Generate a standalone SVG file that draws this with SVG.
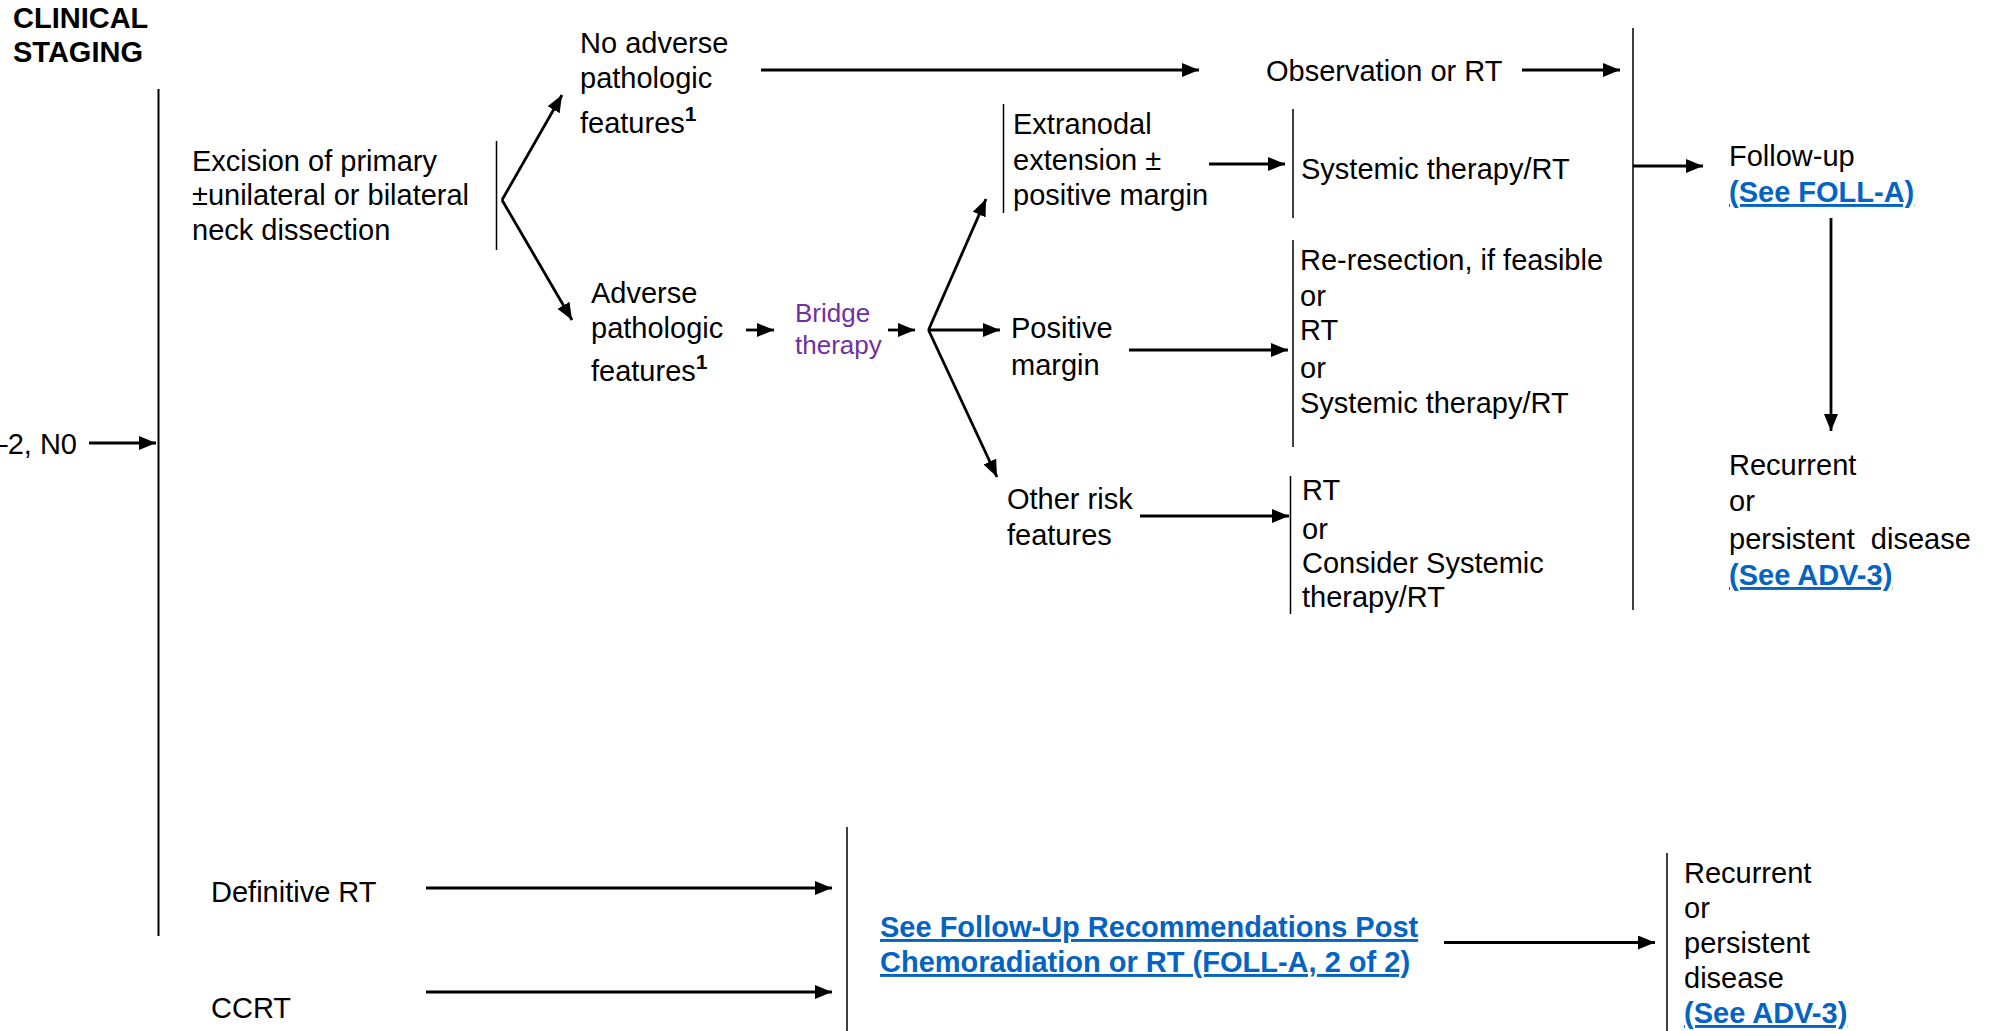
<svg xmlns="http://www.w3.org/2000/svg" width="1989" height="1031" viewBox="0 0 1989 1031">
  <style>
    text { font-family: "Liberation Sans", Arial, Helvetica, sans-serif; font-size: 29px; fill: #000; }
    .hd { font-weight: bold; font-size: 29px; }
    .purple { fill: #7030A0; font-size: 26px; }
    .lnk { fill: #0563C1; font-weight: bold; text-decoration: underline; }
    .sup { font-size: 21px; font-weight: bold; }
    .pre { white-space: pre; }
    .br { stroke: #000; stroke-width: 1.5; fill: none; }
    .spine { stroke: #000; stroke-width: 2; fill: none; }
    .ar { stroke: #000; stroke-width: 2.8; fill: none; marker-end: url(#ah); }
  </style>
  <defs>
    <marker id="ah" markerUnits="userSpaceOnUse" markerWidth="18" markerHeight="14" refX="17" refY="7" orient="auto">
      <path d="M0,0 L17,7 L0,14 Z" fill="#000"/>
    </marker>
  </defs>
  <rect width="1989" height="1031" fill="#fff"/>

  <!-- column heading -->
  <g id="heading">
    <text class="hd" x="13" y="28">CLINICAL</text>
    <text class="hd" x="13" y="62">STAGING</text>
  </g>

  <!-- entry stage -->
  <g id="stage">
    <text x="77" y="454" text-anchor="end">–2, N0</text>
  </g>

  <!-- vertical brackets -->
  <g id="brackets">
    <line class="spine" x1="158.5" y1="89" x2="158.5" y2="936"/>
    <line class="br" x1="496.5" y1="141" x2="496.5" y2="250"/>
    <line class="br" x1="1003.5" y1="104" x2="1003.5" y2="213"/>
    <line class="br" x1="1293" y1="109" x2="1293" y2="218"/>
    <line class="br" x1="1293" y1="240" x2="1293" y2="447"/>
    <line class="br" x1="1290.5" y1="476" x2="1290.5" y2="614"/>
    <line class="br" x1="1633" y1="28" x2="1633" y2="610"/>
    <line class="br" x1="847" y1="827" x2="847" y2="1031"/>
    <line class="br" x1="1667" y1="853" x2="1667" y2="1031"/>
  </g>

  <g id="excision">
    <text x="192" y="171">Excision of primary</text>
    <text x="192" y="205">±unilateral or bilateral</text>
    <text x="192" y="240">neck dissection</text>
  </g>

  <g id="no-adverse">
    <text x="580" y="53">No adverse</text>
    <text x="580" y="88">pathologic</text>
    <text x="580" y="133">features<tspan class="sup" dy="-12">1</tspan></text>
  </g>

  <g id="adverse">
    <text x="591" y="303">Adverse</text>
    <text x="591" y="338">pathologic</text>
    <text x="591" y="381">features<tspan class="sup" dy="-12">1</tspan></text>
  </g>

  <g id="bridge">
    <text class="purple" x="795" y="322">Bridge</text>
    <text class="purple" x="795" y="354">therapy</text>
  </g>

  <g id="extranodal">
    <text x="1013" y="134">Extranodal</text>
    <text x="1013" y="170">extension ±</text>
    <text x="1013" y="205">positive margin</text>
  </g>

  <g id="positive-margin">
    <text x="1011" y="338">Positive</text>
    <text x="1011" y="375">margin</text>
  </g>

  <g id="other-risk">
    <text x="1007" y="509">Other risk</text>
    <text x="1007" y="545">features</text>
  </g>

  <g id="observation">
    <text x="1266" y="81">Observation or RT</text>
  </g>

  <g id="systemic">
    <text x="1301" y="179">Systemic therapy/RT</text>
  </g>

  <g id="re-resection">
    <text x="1300" y="270">Re-resection, if feasible</text>
    <text x="1300" y="306">or</text>
    <text x="1300" y="340">RT</text>
    <text x="1300" y="378">or</text>
    <text x="1300" y="413">Systemic therapy/RT</text>
  </g>

  <g id="rt-or-consider">
    <text x="1302" y="500">RT</text>
    <text x="1302" y="539">or</text>
    <text x="1302" y="573">Consider Systemic</text>
    <text x="1302" y="607">therapy/RT</text>
  </g>

  <g id="follow-up">
    <text x="1729" y="166">Follow-up</text>
    <text class="lnk" x="1729" y="202">(See FOLL-A)</text>
  </g>

  <g id="recurrent-top">
    <text x="1729" y="475">Recurrent</text>
    <text x="1729" y="511">or</text>
    <text class="pre" x="1729" y="549">persistent  disease</text>
    <text class="lnk" x="1729" y="585">(See ADV-3)</text>
  </g>

  <g id="definitive-rt">
    <text x="211" y="902">Definitive RT</text>
  </g>

  <g id="ccrt">
    <text x="211" y="1018">CCRT</text>
  </g>

  <g id="follow-up-post">
    <text class="lnk" x="880" y="937">See Follow-Up Recommendations Post</text>
    <text class="lnk" x="880" y="972">Chemoradiation or RT (FOLL-A, 2 of 2)</text>
  </g>

  <g id="recurrent-bottom">
    <text x="1684" y="883">Recurrent</text>
    <text x="1684" y="918">or</text>
    <text x="1684" y="953">persistent</text>
    <text x="1684" y="988">disease</text>
    <text class="lnk" x="1684" y="1023">(See ADV-3)</text>
  </g>

  <!-- connectors -->
  <g id="connectors">
    <line class="ar" x1="89" y1="443" x2="156" y2="443"/>
    <line class="ar" x1="502" y1="200" x2="562" y2="95"/>
    <line class="ar" x1="502" y1="200" x2="572" y2="320"/>
    <line class="ar" x1="761" y1="70" x2="1199" y2="70"/>
    <line class="ar" x1="746" y1="330" x2="774" y2="330"/>
    <line class="ar" x1="888" y1="330" x2="915" y2="330"/>
    <line class="ar" x1="928.5" y1="330" x2="986" y2="199"/>
    <line class="ar" x1="928.5" y1="330" x2="1000" y2="330"/>
    <line class="ar" x1="928.5" y1="330" x2="997" y2="477"/>
    <line class="ar" x1="1209" y1="164" x2="1285" y2="164"/>
    <line class="ar" x1="1129" y1="350" x2="1288" y2="350"/>
    <line class="ar" x1="1140" y1="516" x2="1289" y2="516"/>
    <line class="ar" x1="1522" y1="70" x2="1620" y2="70"/>
    <line class="ar" x1="1633" y1="166" x2="1703" y2="166"/>
    <line class="ar" x1="1831" y1="218" x2="1831" y2="431"/>
    <line class="ar" x1="426" y1="888" x2="832" y2="888"/>
    <line class="ar" x1="426" y1="992" x2="832" y2="992"/>
    <line class="ar" x1="1444" y1="942.5" x2="1655" y2="942.5"/>
  </g>
</svg>
